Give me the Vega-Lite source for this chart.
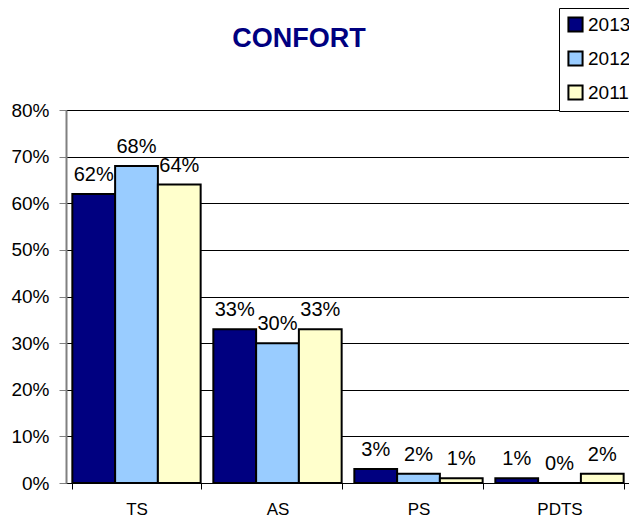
{
  "$schema": "https://vega.github.io/schema/vega-lite/v6.json",
  "autosize": "none",
  "padding": {"left": 66, "top": 110, "right": 0, "bottom": 35},
  "width": 564,
  "height": 373,
  "background": "white",
  "title": {
    "text": "CONFORT",
    "font": "Liberation Sans",
    "fontSize": 27,
    "fontWeight": "bold",
    "color": "#000080",
    "anchor": "middle",
    "frame": "group",
    "dx": -49,
    "offset": -45
  },
  "data": {
    "values": [
      {"cat": "TS", "year": "2013", "value": 0.62},
      {"cat": "TS", "year": "2012", "value": 0.68},
      {"cat": "TS", "year": "2011", "value": 0.64},
      {"cat": "AS", "year": "2013", "value": 0.33},
      {"cat": "AS", "year": "2012", "value": 0.30},
      {"cat": "AS", "year": "2011", "value": 0.33},
      {"cat": "PS", "year": "2013", "value": 0.03},
      {"cat": "PS", "year": "2012", "value": 0.02},
      {"cat": "PS", "year": "2011", "value": 0.01},
      {"cat": "PDTS", "year": "2013", "value": 0.01},
      {"cat": "PDTS", "year": "2012", "value": 0.0},
      {"cat": "PDTS", "year": "2011", "value": 0.02}
    ]
  },
  "encoding": {
    "x": {
      "field": "cat",
      "type": "nominal",
      "sort": ["TS", "AS", "PS", "PDTS"],
      "scale": {"paddingInner": 0.09, "paddingOuter": 0.045},
      "axis": {
        "title": null,
        "labelAngle": 0,
        "labelFont": "Liberation Sans",
        "labelFontSize": 17,
        "labelColor": "black",
        "labelPadding": 12,
        "tickBand": "extent",
        "tickColor": "black",
        "tickSize": 6,
        "domainColor": "black",
        "grid": false
      }
    },
    "xOffset": {"field": "year", "type": "nominal", "sort": ["2013", "2012", "2011"]},
    "y": {
      "field": "value",
      "type": "quantitative",
      "scale": {"domain": [0, 0.8]},
      "axis": {
        "title": null,
        "format": ".0%",
        "values": [0, 0.1, 0.2, 0.3, 0.4, 0.5, 0.6, 0.7, 0.8],
        "labelFont": "Liberation Sans",
        "labelFontSize": 19,
        "labelColor": "black",
        "labelPadding": 10,
        "tickColor": "#808080",
        "tickSize": 7,
        "domainColor": "#808080",
        "domainWidth": 2,
        "grid": true,
        "gridColor": "#000000",
        "gridWidth": 1
      }
    }
  },
  "layer": [
    {
      "mark": {"type": "bar", "stroke": "black", "strokeWidth": 2},
      "encoding": {
        "color": {
          "field": "year",
          "type": "nominal",
          "sort": ["2013", "2012", "2011"],
          "scale": {"domain": ["2013", "2012", "2011"], "range": ["#000080", "#99CCFF", "#FFFFCC"]},
          "legend": {
            "title": null,
            "orient": "none",
            "legendX": 493,
            "legendY": -102,
            "strokeColor": "black",
            "fillColor": "white",
            "padding": 7,
            "rowPadding": 11,
            "symbolType": "square",
            "symbolSize": 200,
            "symbolStrokeColor": "black",
            "symbolStrokeWidth": 2,
            "symbolOpacity": 1,
            "labelFont": "Liberation Sans",
            "labelFontSize": 19,
            "labelColor": "black",
            "labelOffset": 3
          }
        }
      }
    },
    {
      "mark": {"type": "text", "baseline": "bottom", "dy": -9, "font": "Liberation Sans", "fontSize": 20, "color": "black"},
      "encoding": {
        "text": {"field": "value", "type": "quantitative", "format": ".0%"}
      }
    }
  ]
}
